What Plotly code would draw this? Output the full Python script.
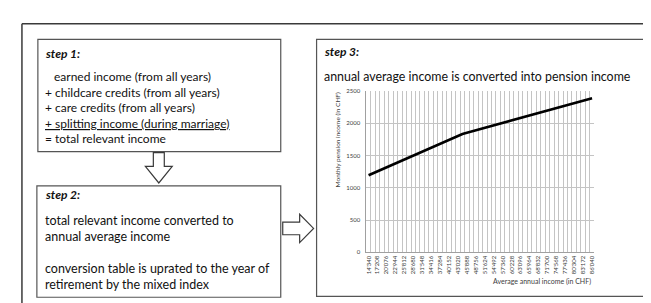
import plotly.graph_objects as go

W, H = 651, 303

# ---- data ----
incomes = [14340, 15774, 17208, 18642, 20076, 21510, 22944, 24378, 25812, 27246,
           28680, 30114, 31548, 32982, 34416, 35850, 37284, 38718, 40152, 41586,
           43020, 44454, 45888, 47322, 48756, 50190, 51624, 53058, 54492, 55926,
           57360, 58794, 60228, 61662, 63096, 64530, 65964, 67398, 68832, 70266,
           71700, 73134, 74568, 76002, 77436, 78870, 80304, 81738, 83172, 84606,
           86040]
pension = [1195, 1226, 1257, 1288, 1319, 1350, 1381, 1412, 1443, 1474,
           1506, 1537, 1568, 1599, 1630, 1661, 1692, 1723, 1754, 1785,
           1816, 1835, 1854, 1873, 1893, 1912, 1931, 1950, 1969, 1988,
           2007, 2027, 2046, 2065, 2084, 2103, 2122, 2141, 2161, 2180,
           2199, 2218, 2237, 2256, 2275, 2294, 2314, 2333, 2352, 2371,
           2390]
tick_labels = ["14'340", "17'208", "20'076", "22'944", "25'812", "28'680", "31'548",
               "34'416", "37'284", "40'152", "43'020", "45'888", "48'756", "51'624",
               "54'492", "57'360", "60'228", "63'096", "65'964", "68'832", "71'700",
               "74'568", "77'436", "80'304", "83'172", "86'040"]
y_ticks = [0, 500, 1000, 1500, 2000, 2500]

step1_title = "step 1:"
step1_lines = ["earned income (from all years)",
               "+ childcare credits (from all years)",
               "+ care credits (from all years)",
               "<u>+ splitting income (during marriage)</u>",
               "= total relevant income"]
step2_title = "step 2:"
step2_lines = ["total relevant income converted to",
               "annual average income",
               "",
               "conversion table is uprated to the year of",
               "retirement by the mixed index"]
step3_title = "step 3:"
step3_sub = "annual average income is converted into pension income"

FONT = "Lato"
TXT = "#111111"

def X(p):
    return p / W

def Y(p):
    return 1 - p / H

idx = list(range(len(incomes)))

fig = go.Figure()
fig.add_trace(go.Scatter(x=idx, y=pension, mode="lines",
                         line=dict(color="black", width=2.6),
                         hoverinfo="skip", showlegend=False))

shapes = []
# outer frame (top & left only visible)
shapes.append(dict(type="line", xref="paper", yref="paper", x0=X(12), x1=X(651), y0=Y(12), y1=Y(12),
                   line=dict(color="#3a3a3a", width=1.5)))
shapes.append(dict(type="line", xref="paper", yref="paper", x0=X(12), x1=X(12), y0=Y(12), y1=Y(303),
                   line=dict(color="#3a3a3a", width=1.5)))
for (x0, y0, x1, y1) in [(28, 28, 272, 143), (27, 178, 272, 292), (308, 28, 647, 291)]:
    shapes.append(dict(type="rect", xref="paper", yref="paper", x0=X(x0), x1=X(x1), y0=Y(y0), y1=Y(y1),
                       line=dict(color="#555555", width=1.2), fillcolor="rgba(0,0,0,0)", layer="below"))

def path(pts):
    return "M " + " L ".join(f"{X(a):.5f},{Y(b):.5f}" for a, b in pts) + " Z"

down = [(144, 144), (155, 144), (155, 158), (163, 158), (149.5, 175), (136, 158), (144, 158)]
right = [(274, 215), (291, 215), (291, 207), (305, 221.5), (291, 236), (291, 228), (274, 228)]
for pts in (down, right):
    shapes.append(dict(type="path", xref="paper", yref="paper", path=path(pts),
                       line=dict(color="#3a3a3a", width=1.2), fillcolor="white"))

ann = []
def text(x, y, s, size, bold=False, italic=False, color=TXT, angle=0, xanchor="left"):
    if bold:
        s = "<b>" + s + "</b>"
    if italic:
        s = "<i>" + s + "</i>"
    ann.append(dict(x=X(x), y=Y(y), xref="paper", yref="paper", text=s, showarrow=False,
                    xanchor=xanchor, yanchor="middle", textangle=angle,
                    font=dict(family=FONT, size=size, color=color)))

text(33, 42, step1_title, 12, bold=True, italic=True)
ys1 = [66, 82, 98, 114, 130]
for i, (yy, s) in enumerate(zip(ys1, step1_lines)):
    text(42 if i == 0 else 33, yy, s, 12)

text(33, 187, step2_title, 12, bold=True, italic=True)
ys2 = [213, 230, 247, 263, 279]
for yy, s in zip(ys2, step2_lines):
    if s:
        text(33, yy, s, 12.5)

text(313, 40, step3_title, 12, bold=True, italic=True)
text(313, 66, step3_sub, 12.4)

text(330, 130, "Monthly pension income (in CHF)", 6.5, angle=-90, color="#404040", xanchor="center")
text(534, 276, "Average annual income (in CHF)", 7, color="#404040", xanchor="center")

fig.update_layout(
    width=W, height=H,
    margin=dict(l=0, r=0, t=0, b=0),
    paper_bgcolor="white", plot_bgcolor="white",
    shapes=shapes, annotations=ann,
    xaxis=dict(domain=[X(358), X(587)], range=[-0.5, len(incomes) - 0.5],
               tickmode="array", tickvals=idx[::2], ticktext=tick_labels,
               tickangle=-90, tickfont=dict(family=FONT, size=6, color="#404040"),
               showgrid=False, zeroline=False, showline=True, linecolor="#a0a0a0", linewidth=1,
               ticks="", ticklen=0,
               minor=dict(tickmode="array", tickvals=[i - 0.5 for i in range(len(incomes) + 1)],
                          showgrid=True, gridcolor="#c4c4c4", gridwidth=1, ticks="")),
    yaxis=dict(domain=[Y(246), Y(81)], range=[0, 2500],
               tickmode="array", tickvals=y_ticks,
               tickfont=dict(family=FONT, size=6, color="#404040"),
               showgrid=True, gridcolor="#c4c4c4", gridwidth=1, zeroline=False,
               showline=True, linecolor="#a0a0a0", linewidth=1, ticks="", ticklabelstandoff=4),
)

fig.write_html("out.html")
